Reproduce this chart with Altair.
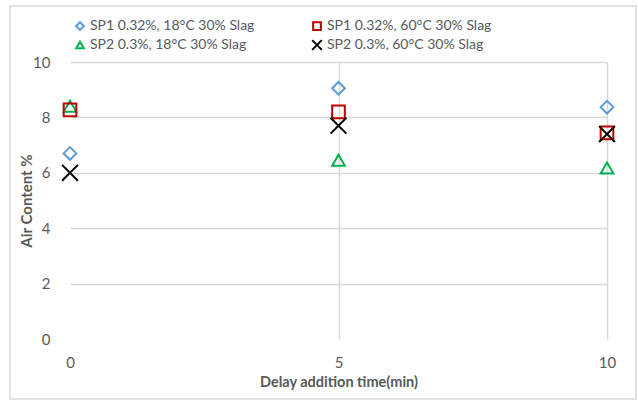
import altair as alt
import pandas as pd

times = [0, 5, 10]
series_names = [
    "SP1 0.32%, 18°C 30% Slag",
    "SP2 0.3%, 18°C 30% Slag",
    "SP1 0.32%, 60°C 30% Slag",
    "SP2 0.3%, 60°C 30% Slag",
]
sp1_18 = [6.7, 9.05, 8.37]
sp2_18 = [8.4, 6.45, 6.17]
sp1_60 = [8.27, 8.2, 7.44]
sp2_60 = [6.0, 7.7, 7.4]

colors = ["#5B9BD5", "#00B050", "#C00000", "#000000"]
shapes = ["diamond", "triangle-up", "square", "M-1.25,-1.25L1.25,1.25M-1.25,1.25L1.25,-1.25"]

rows = []
for name, vals in zip(series_names, [sp1_18, sp2_18, sp1_60, sp2_60]):
    for t, v in zip(times, vals):
        rows.append({"time": t, "air": v, "series": name})
df = pd.DataFrame(rows)

FONT = "Lato"
GRAY = "#595959"
grid_op = {"condition": {"test": "datum.value === 0", "value": 0}, "value": 1}

points = alt.Chart(df).mark_point(filled=False, size=160, strokeWidth=2, opacity=1).encode(
    x=alt.X("time:Q", scale=alt.Scale(domain=[0, 10], nice=False),
            axis=alt.Axis(values=[0, 5, 10], title="Delay addition time(min)",
                          domain=False, ticks=False, labelPadding=16, labelFlush=False,
                          labelFontSize=15, labelColor=GRAY, labelFont=FONT,
                          titleFont=FONT, titleFontSize=14.5, titleColor=GRAY,
                          titleFontWeight="bold", titlePadding=5,
                          gridColor="#D9D9D9", gridWidth=1.5, gridOpacity=grid_op)),
    y=alt.Y("air:Q", scale=alt.Scale(domain=[0, 10], nice=False),
            axis=alt.Axis(values=[0, 2, 4, 6, 8, 10], title="Air Content %",
                          domain=False, ticks=False, labelPadding=20, labelFlush=False,
                          labelFontSize=15, labelColor=GRAY, labelFont=FONT,
                          titleFont=FONT, titleFontSize=15, titleColor=GRAY,
                          titleFontWeight="bold", titlePadding=-2,
                          gridColor="#D9D9D9", gridWidth=1.5, gridOpacity=grid_op)),
    color=alt.Color("series:N", scale=alt.Scale(domain=series_names, range=colors),
                    legend=alt.Legend(title=None, orient="none", legendX=3, legendY=-43,
                                      columns=2, columnPadding=53, rowPadding=2,
                                      labelFont=FONT, labelFontSize=14, labelColor=GRAY,
                                      symbolSize=60, symbolStrokeWidth=2, labelOffset=3,
                                      labelLimit=300)),
    shape=alt.Shape("series:N", scale=alt.Scale(domain=series_names, range=shapes), legend=None),
)

border_df = pd.DataFrame({"b": [1]})
border = alt.Chart(border_df).mark_rect(fill=None, stroke="#D9D9D9", strokeWidth=1.5).encode(
    x=alt.value(-60), x2=alt.value(566), y=alt.value(-56), y2=alt.value(337)
)

chart = alt.layer(border, points).properties(
    width=537, height=277,
    autosize=alt.AutoSizeParams(type="none"),
    padding={"left": 70, "top": 62, "right": 31, "bottom": 63},
    background="white",
).configure_view(stroke=None)

chart.save("out.html", embed_options={"renderer": "svg", "actions": False})
